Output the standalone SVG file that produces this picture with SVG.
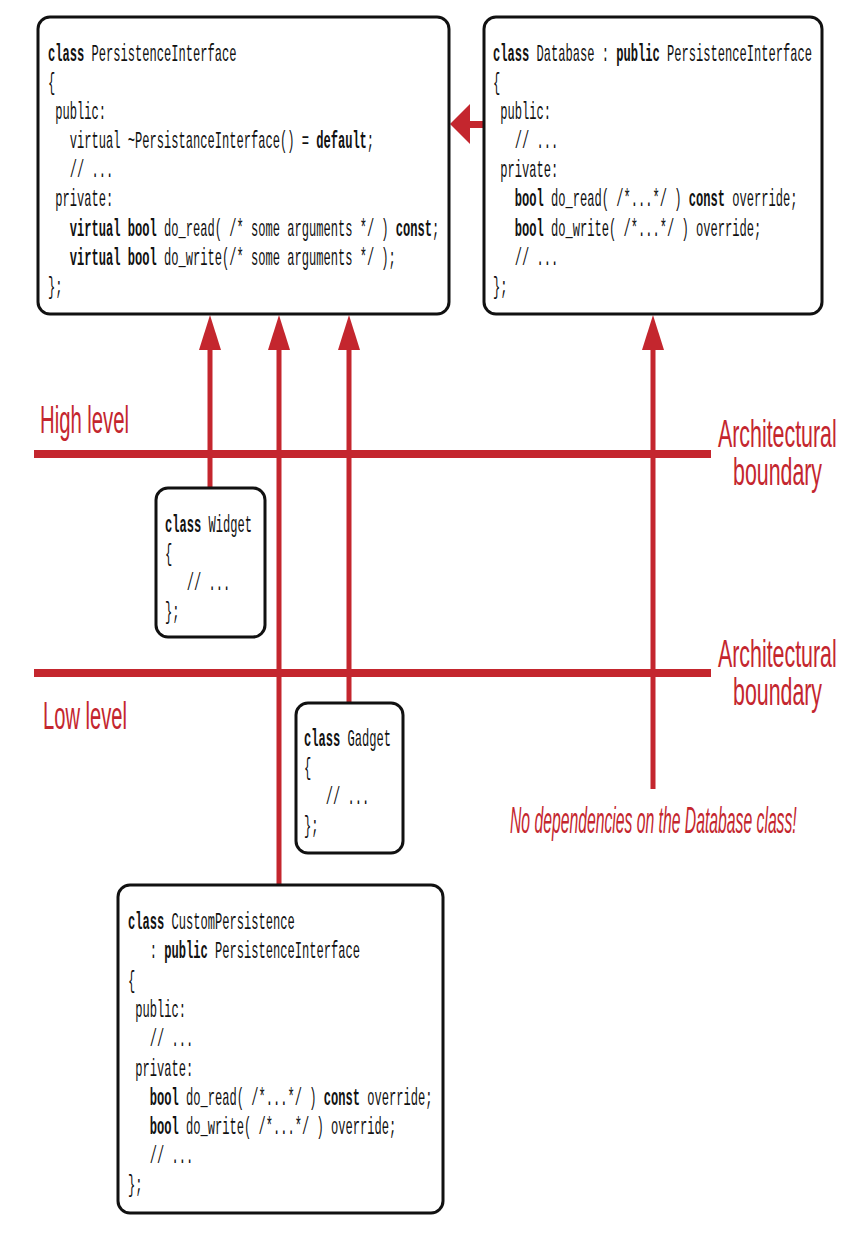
<svg xmlns="http://www.w3.org/2000/svg" width="862" height="1236" viewBox="0 0 862 1236">
<style>
.box{fill:#fff;stroke:#111;stroke-width:3}
.code{font-family:"Liberation Mono","DejaVu Sans Mono",monospace;font-size:23px;fill:#111}
.b{font-weight:bold}
.wire{stroke:#c4262e;stroke-width:5;fill:none}
.bound{stroke:#c4262e;stroke-width:8;fill:none}
.head{fill:#c4262e}
.lbl{font-family:"Liberation Sans","Noto Sans",sans-serif;font-size:38px;fill:#c4262e}
.note{font-family:"Liberation Sans","Noto Sans",sans-serif;font-size:36px;font-style:italic;fill:#c4262e}
</style>
<rect width="862" height="1236" fill="#fff"/>
<g id="boundaries">
<line class="bound" x1="34" y1="454" x2="711" y2="454"/>
<line class="bound" x1="34" y1="673" x2="711" y2="673"/>
<text class="lbl" transform="translate(40,433) scale(0.56,1)" textLength="159" lengthAdjust="spacingAndGlyphs">High level</text>
<text class="lbl" transform="translate(43,729) scale(0.56,1)" textLength="150" lengthAdjust="spacingAndGlyphs">Low level</text>
<text class="lbl" transform="translate(718,447) scale(0.56,1)" textLength="212" lengthAdjust="spacingAndGlyphs">Architectural</text>
<text class="lbl" transform="translate(733,485) scale(0.56,1)" textLength="159" lengthAdjust="spacingAndGlyphs">boundary</text>
<text class="lbl" transform="translate(718,667) scale(0.56,1)" textLength="212" lengthAdjust="spacingAndGlyphs">Architectural</text>
<text class="lbl" transform="translate(733,705) scale(0.56,1)" textLength="159" lengthAdjust="spacingAndGlyphs">boundary</text>
<text class="note" transform="translate(510,833) scale(0.56,1)" textLength="512" lengthAdjust="spacingAndGlyphs">No dependencies on the Database class!</text>
</g>
<g id="connectors">
<line class="wire" x1="210" y1="345" x2="210" y2="488"/>
<polygon class="head" points="210,315 199,350 221,350"/>
<line class="wire" x1="279" y1="345" x2="279" y2="885"/>
<polygon class="head" points="279,315 268,350 290,350"/>
<line class="wire" x1="349" y1="345" x2="349" y2="703"/>
<polygon class="head" points="349,315 338,350 360,350"/>
<line class="wire" x1="653" y1="345" x2="653" y2="789"/>
<polygon class="head" points="653,315 642,350 664,350"/>
<line x1="466" y1="124.5" x2="484" y2="124.5" stroke="#c4262e" stroke-width="7"/>
<polygon class="head" points="450,124 470,104 470,144"/>
</g>
<g id="PersistenceInterface">
<rect class="box" x="38" y="17" width="411" height="297" rx="12"/>
<g transform="translate(48,0) scale(0.5254,1)">
<text class="code" xml:space="preserve" x="0" y="61"><tspan class="b">class</tspan> PersistenceInterface</text>
<text class="code" xml:space="preserve" x="0" y="90">{</text>
<text class="code" xml:space="preserve" x="0" y="119"> public:</text>
<text class="code" xml:space="preserve" x="0" y="148">   virtual ~PersistanceInterface() = <tspan class="b">default</tspan>;</text>
<text class="code" xml:space="preserve" x="0" y="177">   // ...</text>
<text class="code" xml:space="preserve" x="0" y="206"> private:</text>
<text class="code" xml:space="preserve" x="0" y="236">   <tspan class="b">virtual bool</tspan> do_read( /* some arguments */ ) <tspan class="b">const</tspan>;</text>
<text class="code" xml:space="preserve" x="0" y="265">   <tspan class="b">virtual bool</tspan> do_write(/* some arguments */ );</text>
<text class="code" xml:space="preserve" x="0" y="294">};</text>
</g>
</g>
<g id="Database">
<rect class="box" x="484" y="17" width="338" height="297" rx="12"/>
<g transform="translate(493,0) scale(0.5254,1)">
<text class="code" xml:space="preserve" x="0" y="61"><tspan class="b">class</tspan> Database : <tspan class="b">public</tspan> PersistenceInterface</text>
<text class="code" xml:space="preserve" x="0" y="90">{</text>
<text class="code" xml:space="preserve" x="0" y="119"> public:</text>
<text class="code" xml:space="preserve" x="0" y="148">   // ...</text>
<text class="code" xml:space="preserve" x="0" y="177"> private:</text>
<text class="code" xml:space="preserve" x="0" y="206">   <tspan class="b">bool</tspan> do_read( /*...*/ ) <tspan class="b">const</tspan> override;</text>
<text class="code" xml:space="preserve" x="0" y="236">   <tspan class="b">bool</tspan> do_write( /*...*/ ) override;</text>
<text class="code" xml:space="preserve" x="0" y="265">   // ...</text>
<text class="code" xml:space="preserve" x="0" y="294">};</text>
</g>
</g>
<g id="Widget">
<rect class="box" x="156" y="488" width="109" height="149" rx="12"/>
<g transform="translate(165,0) scale(0.5254,1)">
<text class="code" xml:space="preserve" x="0" y="532"><tspan class="b">class</tspan> Widget</text>
<text class="code" xml:space="preserve" x="0" y="561">{</text>
<text class="code" xml:space="preserve" x="0" y="590">   // ...</text>
<text class="code" xml:space="preserve" x="0" y="619">};</text>
</g>
</g>
<g id="Gadget">
<rect class="box" x="296" y="703" width="107" height="150" rx="12"/>
<g transform="translate(304,0) scale(0.5254,1)">
<text class="code" xml:space="preserve" x="0" y="746"><tspan class="b">class</tspan> Gadget</text>
<text class="code" xml:space="preserve" x="0" y="775">{</text>
<text class="code" xml:space="preserve" x="0" y="804">   // ...</text>
<text class="code" xml:space="preserve" x="0" y="833">};</text>
</g>
</g>
<g id="CustomPersistence">
<rect class="box" x="118" y="885" width="325" height="328" rx="12"/>
<g transform="translate(128,0) scale(0.5254,1)">
<text class="code" xml:space="preserve" x="0" y="929"><tspan class="b">class</tspan> CustomPersistence</text>
<text class="code" xml:space="preserve" x="0" y="958">   : <tspan class="b">public</tspan> PersistenceInterface</text>
<text class="code" xml:space="preserve" x="0" y="988">{</text>
<text class="code" xml:space="preserve" x="0" y="1017"> public:</text>
<text class="code" xml:space="preserve" x="0" y="1046">   // ...</text>
<text class="code" xml:space="preserve" x="0" y="1076"> private:</text>
<text class="code" xml:space="preserve" x="0" y="1105">   <tspan class="b">bool</tspan> do_read( /*...*/ ) <tspan class="b">const</tspan> override;</text>
<text class="code" xml:space="preserve" x="0" y="1134">   <tspan class="b">bool</tspan> do_write( /*...*/ ) override;</text>
<text class="code" xml:space="preserve" x="0" y="1163">   // ...</text>
<text class="code" xml:space="preserve" x="0" y="1192">};</text>
</g>
</g>
</svg>
